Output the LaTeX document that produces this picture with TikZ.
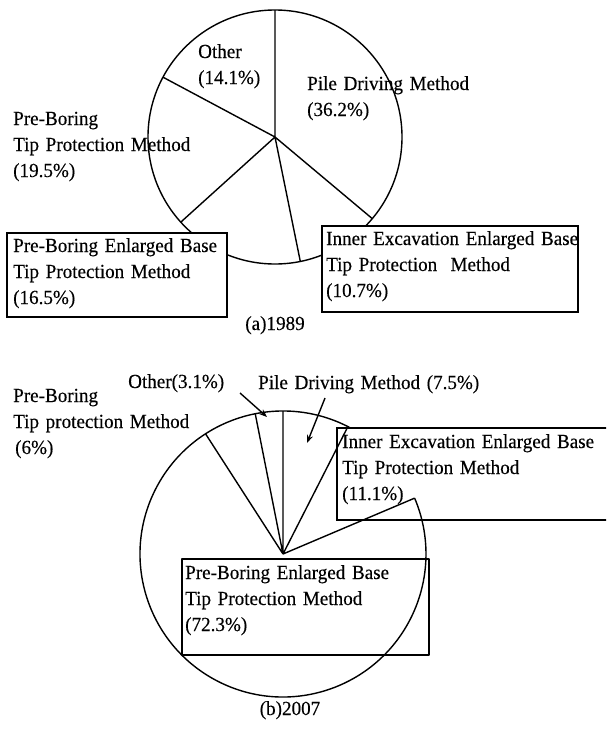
\documentclass[tikz,border=0pt]{standalone}
\usepackage{fontspec}
\setmainfont[FakeStretch=0.955,FakeBold=0.3]{Liberation Serif}
\usetikzlibrary{arrows.meta}
\begin{document}
\begin{tikzpicture}[x=1pt,y=-1pt,
  ln/.style={line width=1.4pt, line join=round},
  lbl/.style={anchor=base west, inner sep=0pt, text width=320pt, align=left,
              font=\fontsize{20}{26}\selectfont},
  captxt/.style={anchor=base, inner sep=0pt, font=\fontsize{20}{26}\selectfont},
  boxw/.style={line width=1.4pt, fill=white},
  arr/.style={line width=1.4pt, -{Stealth[length=8pt,width=6pt]}}]
\useasboundingbox (0,0) rectangle (606,729);
\clip (0,0) rectangle (606,729);

% ---------------- (a) 1989 ----------------
\coordinate (ca) at (275,137);
\draw[ln] (ca) circle[radius=127];
\draw[ln] (ca) -- +(-90:127)
          (ca) -- +(40:127)
          (ca) -- +(78.5:127)
          (ca) -- +(137.9:127)
          (ca) -- +(-151.9:127);
\draw[boxw] (7,233) rectangle (227,317);
\draw[boxw] (322,226) rectangle (578,312);

\node[lbl] (aother) at (198,58) {Other\\(14.1\%)};
\node[lbl] (apile) at (307,90) {Pile Driving Method\\(36.2\%)};
\node[lbl] (atip) at (13,125) {Pre-Boring\\Tip Protection Method\\(19.5\%)};
\node[lbl] (aenl) at (13,252) {Pre-Boring Enlarged Base\\Tip Protection Method\\(16.5\%)};
\node[lbl] (ainn) at (326,245) {Inner Excavation Enlarged Base\\Tip Protection\ \ Method\\(10.7\%)};
\node[captxt] (acap) at (275,330) {(a)1989};

% ---------------- (b) 2007 ----------------
\coordinate (cb) at (283,554);
\draw[boxw] (337,428) rectangle (640,520);
\draw[ln] (182,559) rectangle (429,655);
\draw[ln] (cb) ++(-61.8:143) arc[start angle=-61.8, end angle=-383, radius=143];
\draw[ln] (cb) -- +(-90:143)
          (cb) -- +(-101.2:143)
          (cb) -- +(-122.8:143)
          (cb) -- +(-63:143)
          (cb) -- +(-23:143);

\node[lbl] (bother) at (128,388) {Other(3.1\%)};
\node[lbl] (bpile) at (258,389) {Pile Driving Method (7.5\%)};
\node[lbl] (btip) at (13,402) {Pre-Boring\\Tip protection Method\\\hspace*{2pt}(6\%)};
\node[lbl] (binn) at (342,448) {Inner Excavation Enlarged Base\\Tip Protection Method\\(11.1\%)};
\node[lbl] (benl) at (185,579) {Pre-Boring Enlarged Base\\Tip Protection Method\\(72.3\%)};
\node[captxt] (bcap) at (290,715) {(b)2007};

\coordinate (oa) at (240,393);
\coordinate (ob) at (267,417);
\coordinate (pa) at (325,398);
\coordinate (pb) at (307,443);
\draw[arr] (oa) -- (ob);
\draw[arr] (pa) -- (pb);
\end{tikzpicture}
\end{document}
